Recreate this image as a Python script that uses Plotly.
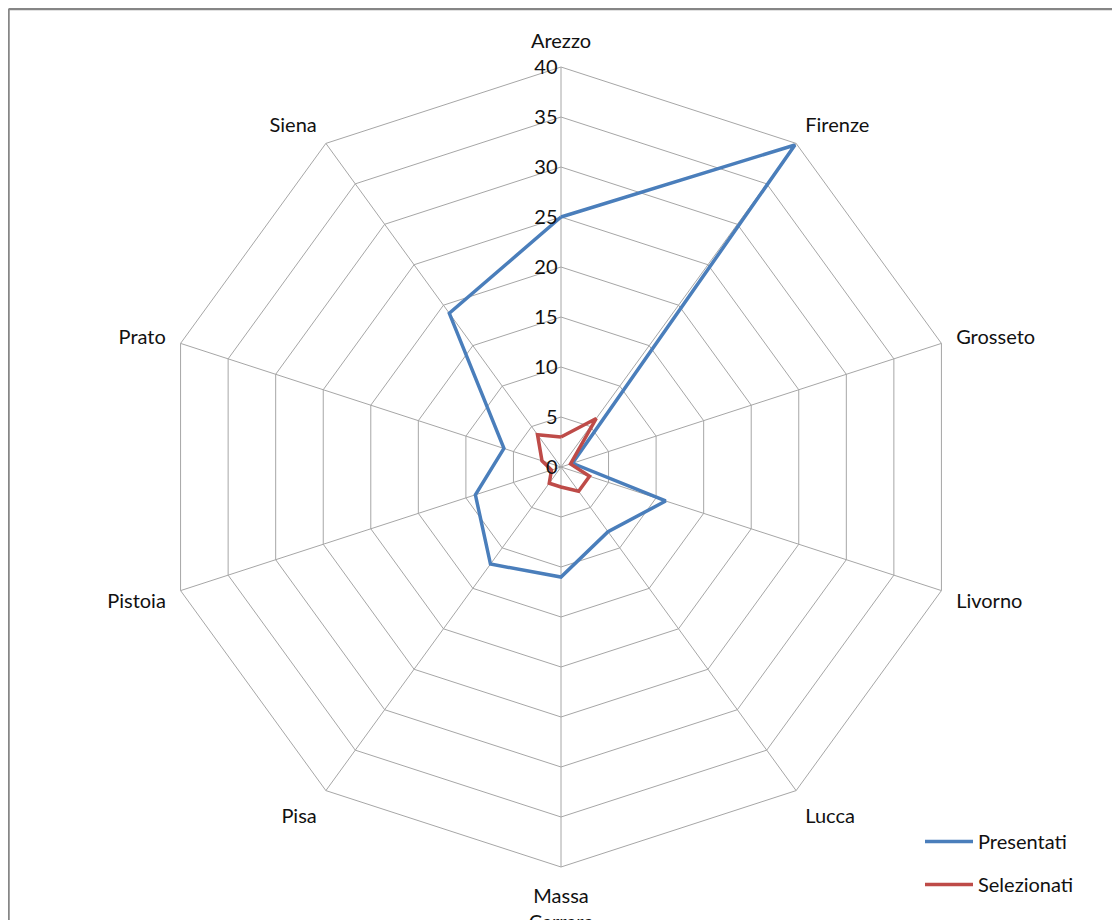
import plotly.graph_objects as go

categories = ["Arezzo", "Firenze", "Grosseto", "Livorno", "Lucca",
              "Massa<br>Carrara", "Pisa", "Pistoia", "Prato", "Siena"]
presentati = [25, 39.8, 1.2, 11, 8, 11, 12, 9, 6, 19]
selezionati = [3, 6, 1, 3, 3, 2, 2, 1, 2, 4]
radial_ticks = [0, 5, 10, 15, 20, 25, 30, 35, 40]

# page body has an 8px offset; figure sized to fill the rest of the window
W, H = 1112, 912
cx, cy, R = 553, 459, 400

def closed(v):
    return v + v[:1]

fig = go.Figure()
fig.add_trace(go.Scatterpolar(
    r=closed(presentati), theta=closed(categories), mode="lines",
    name="Presentati", legendgroup="a",
    line=dict(color="#4a7ebb", width=3.5)))
fig.add_trace(go.Scatterpolar(
    r=closed(selezionati), theta=closed(categories), mode="lines",
    name="Selezionati", legendgroup="b",
    line=dict(color="#be4b48", width=3.5)))

fig.update_layout(
    width=W, height=H,
    margin=dict(l=0, r=0, t=0, b=0),
    paper_bgcolor="white",
    font=dict(family="Lato, Open Sans, sans-serif", size=20, color="#111111"),
    polar=dict(
        domain=dict(x=[(cx - R) / W, (cx + R) / W],
                    y=[1 - (cy + R) / H, 1 - (cy - R) / H]),
        bgcolor="white",
        gridshape="linear",
        radialaxis=dict(range=[0, 40], tickvals=radial_ticks,
                        angle=90, tickangle=90, side="counterclockwise",
                        showline=False, gridcolor="#a6a6a6", gridwidth=1,
                        ticks="", tickfont=dict(size=20, color="#111111")),
        angularaxis=dict(rotation=90, direction="clockwise",
                         linecolor="#a6a6a6", linewidth=1,
                         gridcolor="#a6a6a6", gridwidth=1,
                         ticks="outside", ticklen=11, tickcolor="rgba(0,0,0,0)",
                         tickfont=dict(size=20, color="#111111")),
    ),
    legend=dict(x=912 / W, y=1 - 814 / H, xanchor="left", yanchor="top",
                font=dict(size=20), tracegroupgap=14, traceorder="grouped",
                itemwidth=48, bgcolor="rgba(0,0,0,0)"),
    shapes=[
        dict(type="line", xref="paper", yref="paper",
             x0=0.5 / W, x1=1.02, y0=1 - 1 / H, y1=1 - 1 / H,
             line=dict(color="#868686", width=2.5)),
        dict(type="line", xref="paper", yref="paper",
             x0=0.5 / W, x1=0.5 / W, y0=1 - 1 / H, y1=-0.02,
             line=dict(color="#868686", width=2.5)),
    ],
)

fig.write_html("out.html")
